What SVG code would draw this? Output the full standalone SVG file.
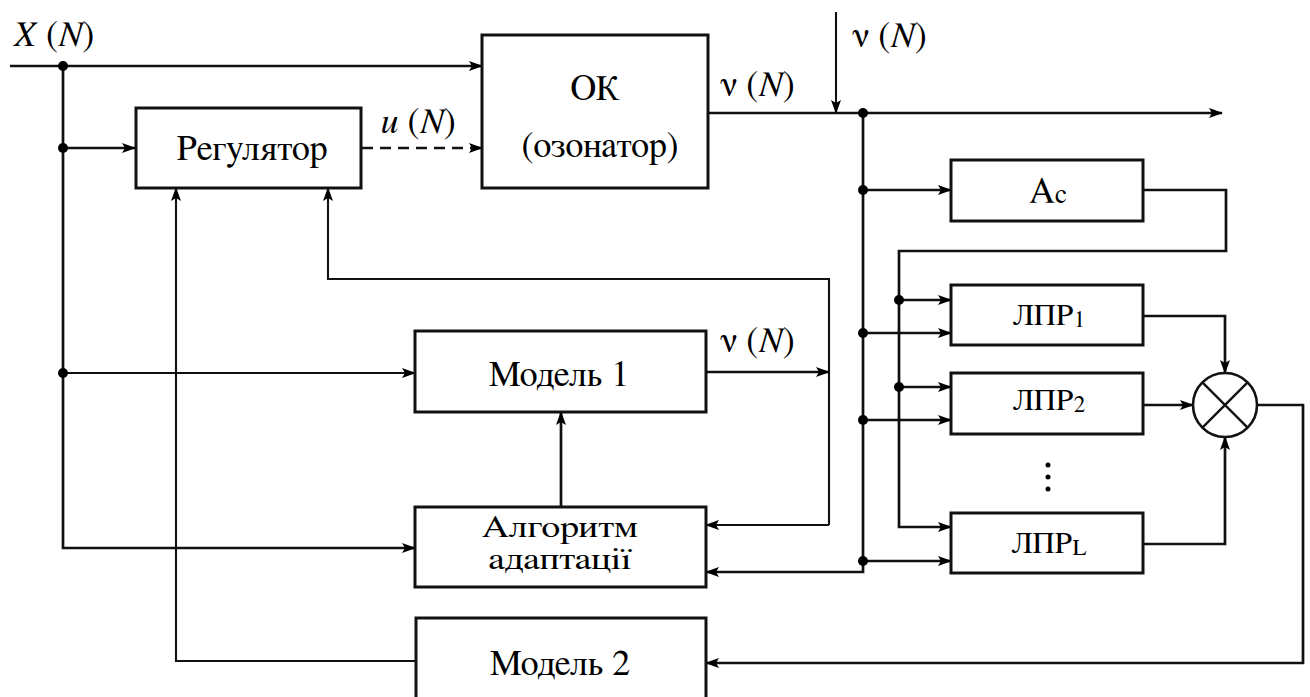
<svg xmlns="http://www.w3.org/2000/svg" width="1310" height="697" viewBox="0 0 1310 697">
<style>
.box{fill:#fff;stroke:#111;stroke-width:3}
.ln{fill:none;stroke:#111;stroke-width:2.7}
.thin{fill:none;stroke:#111;stroke-width:2.1}
text{fill:#000;font-family:FreeSerif,serif}
.lab{font-size:36px}
.it{font-style:italic}
.dot{fill:#000}
</style>
<defs>
<marker id="ar" viewBox="0 0 14 10" markerWidth="14" markerHeight="10" refX="13" refY="5" orient="auto" markerUnits="userSpaceOnUse">
<path d="M0,0 L14,5 L0,10 L3,5 z" fill="#000"/>
</marker>
</defs>
<rect width="1310" height="697" fill="#fff"/>

<g id="connectors">
<path class="ln" d="M10,66 H482" marker-end="url(#ar)"/>
<path class="ln" d="M63,66 V548 H415" marker-end="url(#ar)"/>
<path class="ln" d="M63,148 H135" marker-end="url(#ar)"/>
<path class="thin" d="M63,373 H415" marker-end="url(#ar)"/>
<path class="ln" d="M362,148 H482" stroke-dasharray="11,7" marker-end="url(#ar)"/>
<path class="ln" d="M708,113 H1222" marker-end="url(#ar)"/>
<path class="thin" d="M836,12 V113" stroke-width="1.6" marker-end="url(#ar)"/>
<path class="ln" d="M863,113 V572 H706" marker-end="url(#ar)"/>
<path class="ln" d="M863,190 H951" marker-end="url(#ar)"/>
<path class="ln" d="M863,333 H951" marker-end="url(#ar)"/>
<path class="ln" d="M863,420 H951" marker-end="url(#ar)"/>
<path class="ln" d="M863,561 H951" marker-end="url(#ar)"/>
<path class="ln" d="M1143,190 H1226 V251 H899 V527 H951" marker-end="url(#ar)"/>
<path class="ln" d="M899,300 H951" marker-end="url(#ar)"/>
<path class="ln" d="M899,387 H951" marker-end="url(#ar)"/>
<path class="ln" d="M1143,316 H1225 V373" marker-end="url(#ar)"/>
<path class="ln" d="M1143,405 H1193" marker-end="url(#ar)"/>
<path class="ln" d="M1143,544 H1225 V437" marker-end="url(#ar)"/>
<path class="ln" d="M1257,405 H1303 V663 H706" marker-end="url(#ar)"/>
<path class="thin" d="M416,661 H176 V188" marker-end="url(#ar)"/>
<path class="thin" d="M829,525 V279 H328 V188" marker-end="url(#ar)"/>
<path class="thin" d="M829,525 H706" marker-end="url(#ar)"/>
<path class="ln" d="M706,372 H829" marker-end="url(#ar)"/>
<path class="ln" d="M561,507 V412" marker-end="url(#ar)"/>
<circle class="dot" cx="63" cy="66" r="5"/>
<circle class="dot" cx="63" cy="148" r="5"/>
<circle class="dot" cx="63" cy="373" r="5"/>
<circle class="dot" cx="863" cy="113" r="5"/>
<circle class="dot" cx="863" cy="190" r="5"/>
<circle class="dot" cx="863" cy="333" r="5"/>
<circle class="dot" cx="863" cy="420" r="5"/>
<circle class="dot" cx="863" cy="561" r="5"/>
<circle class="dot" cx="899" cy="300" r="5"/>
<circle class="dot" cx="899" cy="387" r="5"/>
</g>

<g id="labels">
<text class="lab" x="13" y="46"><tspan class="it">X</tspan> (<tspan class="it">N</tspan>)</text>
<text class="lab" x="381" y="133"><tspan class="it">u</tspan> (<tspan class="it">N</tspan>)</text>
<text class="lab" x="720" y="96">ν (<tspan class="it">N</tspan>)</text>
<text class="lab" x="852" y="47">ν (<tspan class="it">N</tspan>)</text>
<text class="lab" x="720" y="352">ν (<tspan class="it">N</tspan>)</text>
</g>

<g id="regulator">
<rect class="box" x="136" y="108" width="225" height="80"/>
<text x="252" y="160" font-size="36" text-anchor="middle">Регулятор</text>
</g>

<g id="ok">
<rect class="box" x="482" y="35" width="226" height="153"/>
<text x="595" y="100" font-size="36" text-anchor="middle">ОК</text>
<text x="600" y="157" font-size="36" text-anchor="middle">(озонатор)</text>
</g>

<g id="model1">
<rect class="box" x="415" y="331" width="291" height="81"/>
<text x="559" y="386" font-size="36" text-anchor="middle">Модель 1</text>
</g>

<g id="algorithm">
<rect class="box" x="415" y="507" width="291" height="80"/>
<text x="560" y="537" font-size="31" text-anchor="middle" textLength="156" lengthAdjust="spacingAndGlyphs">Алгоритм</text>
<text x="560" y="569" font-size="31" text-anchor="middle" textLength="143" lengthAdjust="spacingAndGlyphs">адаптації</text>
</g>

<g id="model2">
<rect class="box" x="416" y="618" width="290" height="84"/>
<text x="560" y="675" font-size="36" text-anchor="middle">Модель 2</text>
</g>

<g id="ac">
<rect class="box" x="951" y="160" width="192" height="61"/>
<text x="1048" y="203" font-size="36" text-anchor="middle">A<tspan font-size="27">c</tspan></text>
</g>

<g id="lpr1">
<rect class="box" x="951" y="285" width="192" height="60"/>
<text x="1049" y="325" font-size="31" text-anchor="middle">ЛПР<tspan font-size="23" dy="2">1</tspan></text>
</g>

<g id="lpr2">
<rect class="box" x="951" y="373" width="192" height="61"/>
<text x="1049" y="410" font-size="31" text-anchor="middle">ЛПР<tspan font-size="23" dy="2">2</tspan></text>
</g>

<g id="dots">
<circle class="dot" cx="1048" cy="465" r="2.5"/>
<circle class="dot" cx="1048" cy="477" r="2.5"/>
<circle class="dot" cx="1048" cy="489" r="2.5"/>
</g>

<g id="lprL">
<rect class="box" x="951" y="513" width="192" height="60"/>
<text x="1049" y="553" font-size="31" text-anchor="middle">ЛПР<tspan font-size="23" dy="2">L</tspan></text>
</g>

<g id="multiplier">
<circle cx="1225" cy="405" r="32" fill="#fff" stroke="#111" stroke-width="2.6"/>
<path d="M1202.4,382.4 L1247.6,427.6 M1247.6,382.4 L1202.4,427.6" stroke="#111" stroke-width="2.4"/>
</g>
</svg>
